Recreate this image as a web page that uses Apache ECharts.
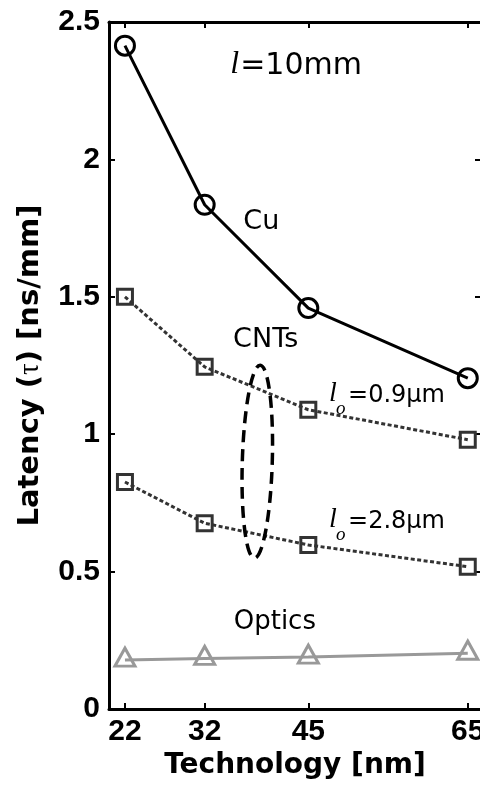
<!DOCTYPE html>
<html>
<head>
<meta charset="utf-8">
<script src="https://cdn.jsdelivr.net/npm/echarts@6/dist/echarts.min.js"></script>
<style>
  html, body { margin: 0; padding: 0; background: #fff; }
  #chart { width: 480px; height: 788px; }
</style>
</head>
<body>
<div id="chart"></div>
<script>
// Technology nodes (nm)
const tech = [22, 32, 45, 65];
// Latency per unit length (ns/mm)
const cu = [2.414, 1.835, 1.459, 1.204];
const cnt09 = [1.500, 1.245, 1.089, 0.980];
const cnt28 = [0.826, 0.676, 0.597, 0.518];
const optics = [0.178, 0.184, 0.189, 0.203];
const yTicks = [0, 0.5, 1, 1.5, 2, 2.5];

const pairs = vals => tech.map((t, i) => [t, vals[i]]);

const tickFont = { fontFamily: 'Liberation Sans', fontWeight: 'bold', fontSize: 30, color: '#000' };
const nameFont = { fontFamily: 'DejaVu Sans', fontWeight: 'bold', fontSize: 28, color: '#000' };
const annFont = 'DejaVu Sans';
const italFont = 'Liberation Serif';

const frameLine = { show: true, onZero: false, lineStyle: { color: '#000', width: 3 } };
const tickStyle = { color: '#000', width: 2 };

const chart = echarts.init(document.getElementById('chart'), null, { renderer: 'canvas' });

chart.setOption({
  backgroundColor: '#fff',
  animation: false,
  grid: { left: 109, top: 22, width: 372, height: 687, outerBoundsMode: 'none' },
  xAxis: [
    {
      type: 'value', min: 20, max: 66.66, position: 'bottom',
      axisLine: frameLine,
      axisTick: { show: true, inside: true, length: 6, customValues: tech, lineStyle: tickStyle },
      axisLabel: Object.assign({ customValues: tech, margin: 8 }, tickFont),
      splitLine: { show: false },
      name: 'Technology [nm]', nameLocation: 'middle', nameGap: 42,
      nameTextStyle: nameFont
    },
    {
      type: 'value', min: 20, max: 66.66, position: 'top',
      axisLine: frameLine,
      axisTick: { show: true, inside: true, length: 6, customValues: tech, lineStyle: tickStyle },
      axisLabel: { show: false },
      splitLine: { show: false }
    }
  ],
  yAxis: [
    {
      type: 'value', min: 0, max: 2.5, interval: 0.5, position: 'left',
      axisLine: frameLine,
      axisTick: { show: true, inside: true, length: 6, lineStyle: tickStyle },
      axisLabel: Object.assign({ margin: 9, formatter: v => String(v) }, tickFont),
      splitLine: { show: false },
      name: 'Latency ({t|τ}) [ns/mm]', nameLocation: 'middle', nameGap: 64,
      nameTextStyle: Object.assign({
        rich: { t: { fontFamily: italFont, fontWeight: 'normal', fontSize: 29, color: '#000' } }
      }, nameFont, { fontSize: 29 })
    },
    {
      type: 'value', min: 0, max: 2.5, interval: 0.5, position: 'right',
      axisLine: frameLine,
      axisTick: { show: true, inside: true, length: 6, lineStyle: tickStyle },
      axisLabel: { show: false },
      splitLine: { show: false }
    }
  ],
  series: [
    {
      name: 'Optics', type: 'line', data: pairs(optics), z: 2,
      symbol: 'triangle', symbolSize: [20, 18], symbolOffset: [0, -3],
      lineStyle: { color: '#999', width: 3 },
      itemStyle: { color: 'transparent', borderColor: '#999', borderWidth: 3 },
      emphasis: { disabled: true }
    },
    {
      name: 'CNT 2.8um', type: 'line', data: pairs(cnt28), z: 3,
      symbol: 'rect', symbolSize: 15,
      lineStyle: { color: '#333', width: 3, type: [4, 2.5] },
      itemStyle: { color: 'transparent', borderColor: '#333', borderWidth: 3 },
      emphasis: { disabled: true }
    },
    {
      name: 'CNT 0.9um', type: 'line', data: pairs(cnt09), z: 3,
      symbol: 'rect', symbolSize: 15,
      lineStyle: { color: '#333', width: 3, type: [4, 2.5] },
      itemStyle: { color: 'transparent', borderColor: '#333', borderWidth: 3 },
      emphasis: { disabled: true }
    },
    {
      name: 'Cu', type: 'line', data: pairs(cu), z: 4,
      symbol: 'circle', symbolSize: 19,
      lineStyle: { color: '#000', width: 3 },
      itemStyle: { color: 'transparent', borderColor: '#000', borderWidth: 3 },
      emphasis: { disabled: true }
    }
  ]
});

// Annotations placed in data coordinates
const px = (x, y) => chart.convertToPixel({ gridIndex: 0 }, [x, y]);

function txt(x, y, text, opts) {
  return {
    type: 'text', x: x, y: y, z: 10,
    style: Object.assign({
      text: text, fill: '#000', fontFamily: annFont, fontSize: 27,
      align: 'center', verticalAlign: 'middle'
    }, opts || {})
  };
}

// "l_o=..." label: italic l, italic subscript o, then the value
function loLabel(anchor, value) {
  const [x, y] = px(anchor[0], anchor[1]);
  return [
    txt(x, y - 2, 'l', { fontFamily: italFont, fontStyle: 'italic', fontSize: 28, align: 'left' }),
    txt(x + 7, y + 13, 'o', { fontFamily: italFont, fontStyle: 'italic', fontSize: 19, align: 'left' }),
    txt(x + 19, y, value, { fontSize: 24, align: 'left' })
  ];
}

const graphics = [];

// l = 10 mm
{
  const [x, y] = px(35.2, 2.34);
  graphics.push(txt(x, y - 1, 'l', { fontFamily: italFont, fontStyle: 'italic', fontSize: 32, align: 'left' }));
  graphics.push(txt(x + 10, y, '=10mm', { fontSize: 30, align: 'left' }));
}

{ const [x, y] = px(39.1, 1.773); graphics.push(txt(x, y, 'Cu')); }
{ const [x, y] = px(39.65, 1.342); graphics.push(txt(x, y, 'CNTs')); }
{ const [x, y] = px(40.8, 0.317); graphics.push(txt(x, y, 'Optics', { fontSize: 26 })); }

graphics.push(...loLabel([47.6, 1.14], '=0.9μm'));
graphics.push(...loLabel([47.6, 0.682], '=2.8μm'));

// dashed ellipse grouping the two CNT curves
{
  const c = px(38.6, 0.90);
  const e = px(38.6 + 1.88, 0.90 + 0.351);
  graphics.push({
    type: 'ellipse', x: c[0], y: c[1], rotation: -0.03, z: 9,
    shape: { cx: 0, cy: 0, rx: e[0] - c[0], ry: c[1] - e[1] },
    style: { fill: 'none', stroke: '#000', lineWidth: 3.5, lineDash: [12, 7] }
  });
}

chart.setOption({ graphic: graphics });
</script>
</body>
</html>
